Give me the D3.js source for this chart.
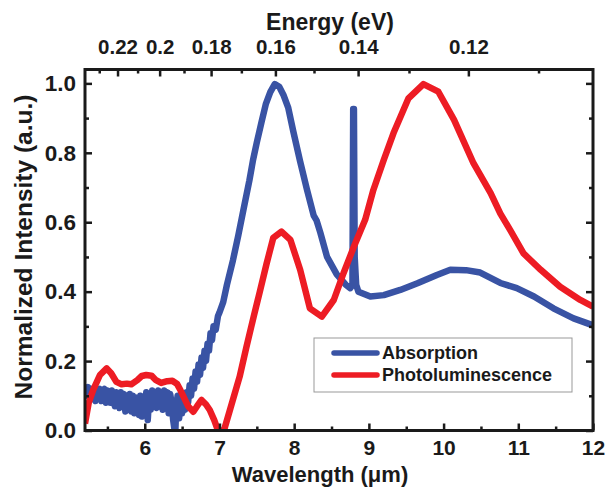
<!DOCTYPE html>
<html>
<head>
<meta charset="utf-8">
<script src="https://cdn.jsdelivr.net/npm/d3@7"></script>
<style>
    body { margin: 0; background: #fff; }
    svg { display: block; font-family: "Liberation Sans", Arial, sans-serif; font-weight: bold; }
</style>
</head>
<body>
<svg id="chart" width="607" height="487"></svg>
<script>
    // wavelength (um) / normalized intensity
    const absWl = [5.20, 5.22, 5.24, 5.26, 5.28, 5.30, 5.32, 5.34, 5.36, 5.38, 5.40, 5.42, 5.44, 5.46, 5.48,
        5.50, 5.52, 5.54, 5.56, 5.58, 5.60, 5.62, 5.64, 5.66, 5.68, 5.70, 5.72, 5.74, 5.76, 5.78,
        5.80, 5.82, 5.84, 5.86, 5.88, 5.90, 5.92, 5.94, 5.96, 5.98, 6.00, 6.02, 6.04, 6.06, 6.08,
        6.10, 6.12, 6.14, 6.16, 6.18, 6.20, 6.22, 6.24, 6.26, 6.28, 6.30, 6.32, 6.34, 6.36, 6.38,
        6.40, 6.41, 6.42, 6.44, 6.46, 6.48, 6.50, 6.52, 6.54, 6.56, 6.58, 6.60, 6.62, 6.64, 6.66,
        6.68, 6.70, 6.72, 6.74, 6.76, 6.78, 6.80, 6.82, 6.84, 6.86, 6.88, 6.90, 6.92, 6.95, 6.98,
        7.00, 7.05, 7.10, 7.18, 7.25, 7.32, 7.40, 7.45, 7.50, 7.56, 7.62, 7.68, 7.74, 7.80, 7.86,
        7.92, 7.99, 8.08, 8.17, 8.26, 8.30, 8.35, 8.44, 8.57, 8.69, 8.75, 8.78, 8.79, 8.80, 8.81,
        8.83, 8.86, 9.02, 9.20, 9.42, 9.65, 9.91, 10.09, 10.30, 10.49, 10.76, 10.98, 11.21, 11.47, 11.74, 12.0];
    const absVal = [0.12, 0.10, 0.125, 0.12, 0.09, 0.12, 0.115, 0.085, 0.12, 0.10, 0.12, 0.085, 0.115, 0.12, 0.08,
        0.115, 0.10, 0.08, 0.115, 0.09, 0.07, 0.11, 0.09, 0.065, 0.11, 0.07, 0.105, 0.055, 0.10, 0.06,
        0.105, 0.055, 0.10, 0.05, 0.095, 0.06, 0.045, 0.10, 0.04, 0.09, 0.055, 0.11, 0.03, 0.10, 0.06,
        0.115, 0.07, 0.11, 0.065, 0.115, 0.075, 0.11, 0.06, 0.115, 0.07, 0.11, 0.05, 0.105, 0.08, 0.03,
        0.0, 0.0, 0.07, 0.10, 0.035, 0.09, 0.05, 0.10, 0.06, 0.11, 0.08, 0.13, 0.10, 0.15, 0.12,
        0.17, 0.14, 0.19, 0.16, 0.21, 0.18, 0.23, 0.20, 0.25, 0.23, 0.28, 0.26, 0.30, 0.29, 0.33,
        0.34, 0.37, 0.42, 0.49, 0.56, 0.635, 0.72, 0.78, 0.83, 0.886, 0.94, 0.975, 0.998, 0.99, 0.965,
        0.93, 0.86, 0.775, 0.695, 0.62, 0.605, 0.57, 0.50, 0.45, 0.42, 0.41, 0.42, 0.926, 0.926, 0.50,
        0.42, 0.40, 0.386, 0.39, 0.405, 0.424, 0.448, 0.463, 0.462, 0.455, 0.425, 0.41, 0.386, 0.352, 0.323, 0.303];

    const plWl = [5.20, 5.25, 5.31, 5.40, 5.49, 5.55, 5.62, 5.69, 5.76, 5.82, 5.90, 5.96, 6.02, 6.09, 6.15,
        6.22, 6.30, 6.37, 6.43, 6.48, 6.52, 6.58, 6.65, 6.70, 6.76, 6.82, 6.87, 6.93, 6.98, 7.06,
        7.14, 7.27, 7.36, 7.46, 7.54, 7.63, 7.72, 7.83, 7.95, 8.08, 8.21, 8.37, 8.53, 8.66, 8.80,
        8.95, 9.06, 9.20, 9.33, 9.53, 9.73, 9.93, 10.14, 10.40, 10.63, 10.76, 10.89, 11.07, 11.30, 11.56,
        11.83, 12.0];
    const plVal = [0.02, 0.08, 0.117, 0.16, 0.179, 0.165, 0.14, 0.133, 0.135, 0.133, 0.145, 0.157, 0.16, 0.158, 0.145,
        0.137, 0.142, 0.143, 0.135, 0.115, 0.097, 0.07, 0.054, 0.07, 0.088, 0.075, 0.059, 0.03, 0.0, 0.0,
        0.059, 0.155, 0.24, 0.33, 0.40, 0.48, 0.555, 0.573, 0.549, 0.463, 0.352, 0.328, 0.376, 0.453, 0.53,
        0.607, 0.693, 0.78, 0.857, 0.957, 0.998, 0.976, 0.895, 0.77, 0.684, 0.625, 0.578, 0.51, 0.463, 0.414,
        0.376, 0.357];

    const seriesNames = ['Absorption', 'Photoluminescence'];
    const seriesColors = ['#3953a4', '#ed1c24'];

    const xMajor = [6, 7, 8, 9, 10, 11, 12];
    const xMinor = [5.5, 6.5, 7.5, 8.5, 9.5, 10.5, 11.5];
    const yMajor = [0, 0.2, 0.4, 0.6, 0.8, 1.0];
    const yMinor = [0.1, 0.3, 0.5, 0.7, 0.9];
    const energyMajor = [0.22, 0.2, 0.18, 0.16, 0.14, 0.12];
    const energyLabels = ['0.22', '0.2', '0.18', '0.16', '0.14', '0.12'];
    const energyMinor = [0.23, 0.21, 0.19, 0.17, 0.15, 0.13, 0.11];
    const HC = 1.2398; // eV*um

    const margin = { top: 69.5, right: 14, bottom: 56.5, left: 85 };
    const width = 607 - margin.left - margin.right;
    const height = 487 - margin.top - margin.bottom;

    const svg = d3.select('#chart');
    const chart = svg.append('g')
        .attr('transform', `translate(${margin.left}, ${margin.top})`);

    const xScale = d3.scaleLinear().domain([5.2, 12]).range([0, width]);
    const yScale = d3.scaleLinear().domain([0, 1.04]).range([height, 0]);

    chart.append('clipPath').attr('id', 'plotClip')
        .append('rect').attr('width', width).attr('height', height);

    const line = d3.line()
        .x(d => xScale(d[0]))
        .y(d => yScale(d[1]));

    const absData = absWl.map((w, i) => [w, absVal[i]]);
    const plData = plWl.map((w, i) => [w, plVal[i]]);

    const lines = chart.append('g').attr('clip-path', 'url(#plotClip)');
    lines.append('path')
        .datum(absData)
        .attr('fill', 'none')
        .attr('stroke', seriesColors[0])
        .attr('stroke-width', 6.5)
        .attr('stroke-linejoin', 'round')
        .attr('d', line);
    lines.append('path')
        .datum(plData)
        .attr('fill', 'none')
        .attr('stroke', seriesColors[1])
        .attr('stroke-width', 6.5)
        .attr('stroke-linejoin', 'round')
        .attr('d', line);

    function styleAxis(g, fontSize) {
        g.select('.domain').remove();
        g.selectAll('.tick line').attr('stroke', '#1a1a1a').attr('stroke-width', 2.5);
        g.selectAll('.tick text')
            .attr('fill', '#1a1a1a')
            .style('font-size', fontSize + 'px')
            .style('font-weight', 'bold')
            .style('font-family', '"Liberation Sans", Arial, sans-serif');
    }

    // bottom
    chart.append('g')
        .attr('transform', `translate(0, ${height})`)
        .call(d3.axisBottom(xScale).tickValues(xMajor).tickSize(-7).tickPadding(10).tickFormat(d3.format('d')))
        .call(g => styleAxis(g, 21));
    chart.append('g')
        .attr('transform', `translate(0, ${height})`)
        .call(d3.axisBottom(xScale).tickValues(xMinor).tickSize(-4).tickFormat(''))
        .call(g => styleAxis(g, 21));

    // left
    chart.append('g')
        .call(d3.axisLeft(yScale).tickValues(yMajor).tickSize(-7).tickPadding(9).tickFormat(d3.format('.1f')))
        .call(g => styleAxis(g, 22.5));
    chart.append('g')
        .call(d3.axisLeft(yScale).tickValues(yMinor).tickSize(-4).tickFormat(''))
        .call(g => styleAxis(g, 22));

    // right
    chart.append('g')
        .attr('transform', `translate(${width}, 0)`)
        .call(d3.axisRight(yScale).tickValues(yMajor).tickSize(-7).tickFormat(''))
        .call(g => styleAxis(g, 20));
    chart.append('g')
        .attr('transform', `translate(${width}, 0)`)
        .call(d3.axisRight(yScale).tickValues(yMinor).tickSize(-4).tickFormat(''))
        .call(g => styleAxis(g, 20));

    // top: energy
    chart.append('g')
        .call(d3.axisTop(xScale).tickValues(energyMajor.map(e => HC / e)).tickSize(-7).tickPadding(16)
            .tickFormat((d, i) => energyLabels[i]))
        .call(g => styleAxis(g, 20.5));
    chart.append('g')
        .call(d3.axisTop(xScale).tickValues(energyMinor.map(e => HC / e)).tickSize(-4).tickFormat(''))
        .call(g => styleAxis(g, 20.5));

    // frame
    chart.append('rect')
        .attr('width', width)
        .attr('height', height)
        .attr('fill', 'none')
        .attr('stroke', '#1a1a1a')
        .attr('stroke-width', 3);

    // titles
    svg.append('text')
        .attr('x', 320)
        .attr('y', 482)
        .attr('text-anchor', 'middle')
        .style('font-size', '22px')
        .attr('fill', '#1a1a1a')
        .text('Wavelength (\u03bcm)');

    svg.append('text')
        .attr('x', 330)
        .attr('y', 30)
        .attr('text-anchor', 'middle')
        .style('font-size', '23px')
        .attr('fill', '#1a1a1a')
        .text('Energy (eV)');

    svg.append('text')
        .attr('transform', `translate(32, ${margin.top + height / 2 - 3}) rotate(-90)`)
        .attr('text-anchor', 'middle')
        .style('font-size', '24.5px')
        .attr('fill', '#1a1a1a')
        .text('Normalized Intensity (a.u.)');

    // legend
    const legend = svg.append('g').attr('transform', 'translate(314, 338)');
    legend.append('rect')
        .attr('width', 258)
        .attr('height', 54)
        .attr('fill', '#fff')
        .attr('stroke', '#999')
        .attr('stroke-width', 1);
    seriesNames.forEach((name, i) => {
        const y = 15 + i * 22;
        legend.append('line')
            .attr('x1', 20).attr('x2', 63)
            .attr('y1', y).attr('y2', y)
            .attr('stroke', seriesColors[i])
            .attr('stroke-width', 5.5)
            .attr('stroke-linecap', 'round');
        legend.append('text')
            .attr('x', 68)
            .attr('y', y)
            .attr('dy', '0.36em')
            .style('font-size', '18px')
            .attr('fill', '#1a1a1a')
            .text(name);
    });
</script>
</body>
</html>
